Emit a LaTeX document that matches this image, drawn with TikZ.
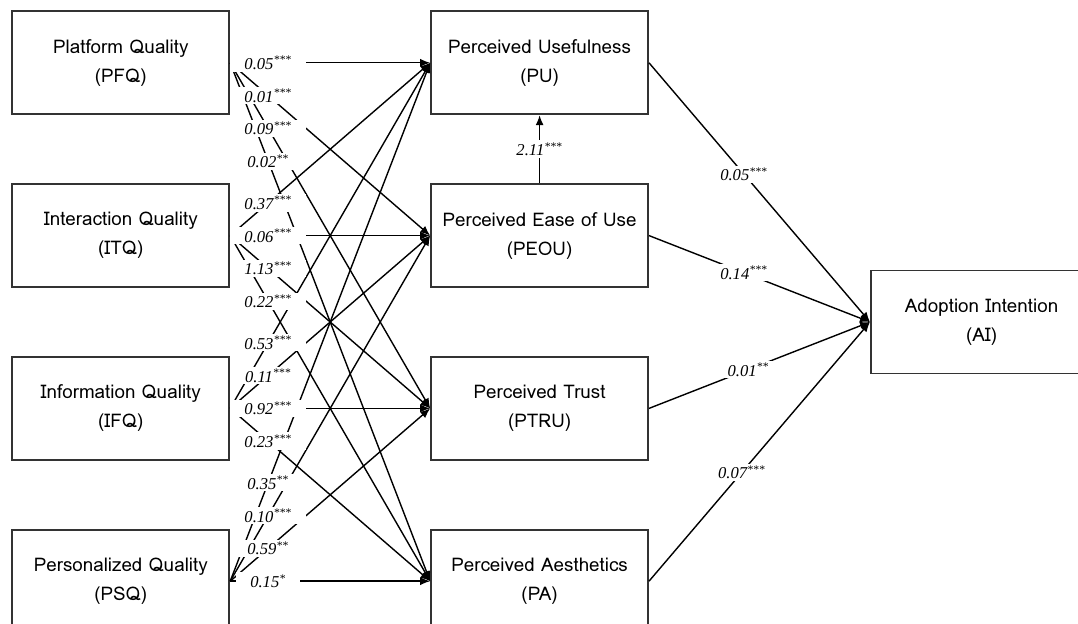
\documentclass[tikz,border=0pt]{standalone}
\usepackage{fontspec}
\setmainfont{Liberation Serif}
\newfontfamily\boxfont{Loma}
\usetikzlibrary{arrows.meta,calc}

\begin{document}
\begin{tikzpicture}
\tikzstyle{block} = [rectangle, draw=black!80, line width=0.9pt,
text width=104pt, text centered, minimum width=108.5pt, minimum height=51.5pt,
font=\boxfont\fontsize{9.4}{14.5}\selectfont]
\tikzstyle{line} = [draw, line width=0.7pt, -{Latex[length=5pt,width=4pt]}];
\tikzstyle{coef} = [fill=white, inner xsep=7pt, inner ysep=1pt,
font=\itshape\fontsize{8.3}{10}\selectfont];

\useasboundingbox (0,0) rectangle (539pt,-312pt);
\matrix [anchor=north west, inner sep=0pt, column sep=100pt, row sep=34pt] at (5.5pt,-5pt)
{
% row 1
\node [block] (pfq) {Platform Quality\\(PFQ)}; &
\node [block] (pu) {Perceived Usefulness\\(PU)}; \\
% row 2
\node [block] (itq) {Interaction Quality\\(ITQ)}; &
\node [block] (peou) {Perceived Ease of Use\\(PEOU)}; \\
% row 3
\node [block] (ifq) {Information Quality\\(IFQ)}; &
\node [block] (ptru) {Perceived Trust\\(PTRU)}; \\
% row 4
\node [block] (psq) {Personalized Quality\\(PSQ)}; &
\node [block] (pa) {Perceived Aesthetics\\(PA)}; \\
};
\node [block, anchor=west] (ai) at ($(peou.east)!0.5!(ptru.east)+(110.5pt,0)$) {Adoption Intention\\(AI)};

% left column to middle column
\path[line] (pfq.east) -- (pu.west);
\path[line] (pfq.east) -- (peou.west);
\path[line] (pfq.east) -- (ptru.west);
\path[line] (pfq.east) -- (pa.west);
\path[line] (itq.east) -- (pu.west);
\path[line] (itq.east) -- (peou.west);
\path[line] (itq.east) -- (ptru.west);
\path[line] (itq.east) -- (pa.west);
\path[line] (ifq.east) -- (pu.west);
\path[line] (ifq.east) -- (peou.west);
\path[line] (ifq.east) -- (ptru.west);
\path[line] (ifq.east) -- (pa.west);
\path[line] (psq.east) -- (pu.west);
\path[line] (psq.east) -- (peou.west);
\path[line] (psq.east) -- (ptru.west);
\path[line] (psq.east) -- (pa.west);
% middle column to AI
\path[line] (pu.east) -- (ai.west);
\path[line] (peou.east) -- (ai.west);
\path[line] (ptru.east) -- (ai.west);
\path[line] (pa.east) -- (ai.west);
\path[line] (peou.north) -- (pu.south);

% coefficients, on top of the lines
\path (pfq.east) -- node[coef, pos=.19] {0.05\textsuperscript{***}} (pu.west);
\path (pfq.east) -- node[coef, pos=.19] {0.01\textsuperscript{***}} (peou.west);
\path (pfq.east) -- node[coef, pos=.19] {0.09\textsuperscript{***}} (ptru.west);
\path (pfq.east) -- node[coef, pos=.19] {0.02\textsuperscript{**}} (pa.west);
\path (itq.east) -- node[coef, pos=.19] {0.37\textsuperscript{***}} (pu.west);
\path (itq.east) -- node[coef, pos=.19] {0.06\textsuperscript{***}} (peou.west);
\path (itq.east) -- node[coef, pos=.19] {1.13\textsuperscript{***}} (ptru.west);
\path (itq.east) -- node[coef, pos=.19] {0.22\textsuperscript{***}} (pa.west);
\path (ifq.east) -- node[coef, pos=.19] {0.53\textsuperscript{***}} (pu.west);
\path (ifq.east) -- node[coef, pos=.19] {0.11\textsuperscript{***}} (peou.west);
\path (ifq.east) -- node[coef, pos=.19] {0.92\textsuperscript{***}} (ptru.west);
\path (ifq.east) -- node[coef, pos=.19] {0.23\textsuperscript{***}} (pa.west);
\path (psq.east) -- node[coef, pos=.19] {0.35\textsuperscript{**}} (pu.west);
\path (psq.east) -- node[coef, pos=.19] {0.10\textsuperscript{***}} (peou.west);
\path (psq.east) -- node[coef, pos=.19] {0.59\textsuperscript{**}} (ptru.west);
\path (psq.east) -- node[coef, pos=.19] {0.15\textsuperscript{*}} (pa.west);
\path (pu.east) -- node[coef, pos=.43] {0.05\textsuperscript{***}} (ai.west);
\path (peou.east) -- node[coef, pos=.43] {0.14\textsuperscript{***}} (ai.west);
\path (ptru.east) -- node[coef, pos=.45] {0.01\textsuperscript{**}} (ai.west);
\path (pa.east) -- node[coef, pos=.42] {0.07\textsuperscript{***}} (ai.west);
\path (peou.north) -- node[coef, inner xsep=1pt] {2.11\textsuperscript{***}} (pu.south);

\end{tikzpicture}
\end{document}
